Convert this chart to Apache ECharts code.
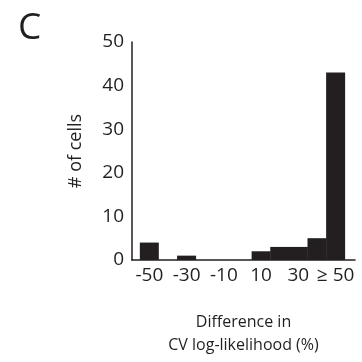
<!DOCTYPE html>
<html>
<head>
<meta charset="utf-8">
<script src="https://cdn.jsdelivr.net/npm/echarts@6/dist/echarts.min.js"></script>
<style>
  html, body { margin: 0; padding: 0; background: #fff; }
  #main { width: 362px; height: 362px; }
</style>
</head>
<body>
<div id="main"></div>
<script>
// histogram bins, 10% wide, last one is >= 50
var bins = ['-50', '-40', '-30', '-20', '-10', '0', '10', '20', '30', '40', '≥ 50'];
var counts = [4, 0, 1, 0, 0, 0, 2, 3, 3, 5, 43];
var tickBins = [0, 2, 4, 6, 8, 10];
var tickLabels = ['-50', '-30', '-10', '10', '30', '≥ 50'];
var yTicks = [0, 10, 20, 30, 40, 50];

var ink = '#231f20';
var font = 'Open Sans';

var chart = echarts.init(document.getElementById('main'));

var option = {
    animation: false,
    title: {
        text: 'C',
        left: 13,
        top: 5,
        textStyle: { fontFamily: font, fontSize: 37, fontWeight: 'normal', color: ink }
    },
    grid: { left: 132, right: 7, top: 42, bottom: 99 },
    xAxis: {
        type: 'value',
        min: -0.93,
        max: 11.04,
        name: 'Difference in\nCV log-likelihood (%)',
        nameLocation: 'middle',
        nameGap: 51,
        nameTextStyle: { fontFamily: font, fontSize: 16, color: ink, lineHeight: 23, verticalAlign: 'top' },
        axisLine: { onZero: false, lineStyle: { color: ink, width: 1.5 } },
        axisTick: { show: false },
        splitLine: { show: false },
        axisLabel: {
            customValues: tickBins,
            margin: 6,
            fontFamily: font,
            fontSize: 19,
            color: ink,
            formatter: function (v) {
                var i = tickBins.indexOf(v);
                return i >= 0 ? tickLabels[i] : '';
            }
        }
    },
    yAxis: {
        type: 'value',
        min: yTicks[0],
        max: yTicks[yTicks.length - 1],
        interval: 10,
        name: '# of cells',
        nameLocation: 'middle',
        nameGap: 47,
        nameTextStyle: { fontFamily: font, fontSize: 18, color: ink },
        axisLine: { show: true, onZero: false, lineStyle: { color: ink, width: 1.5 } },
        axisTick: { show: false },
        splitLine: { show: false },
        axisLabel: { margin: 8, fontFamily: font, fontSize: 19, color: ink }
    },
    series: [{
        type: 'bar',
        barWidth: 19,
        itemStyle: { color: ink },
        data: counts.map(function (c, i) { return [i, c]; })
    }]
};

chart.setOption(option);
</script>
</body>
</html>
